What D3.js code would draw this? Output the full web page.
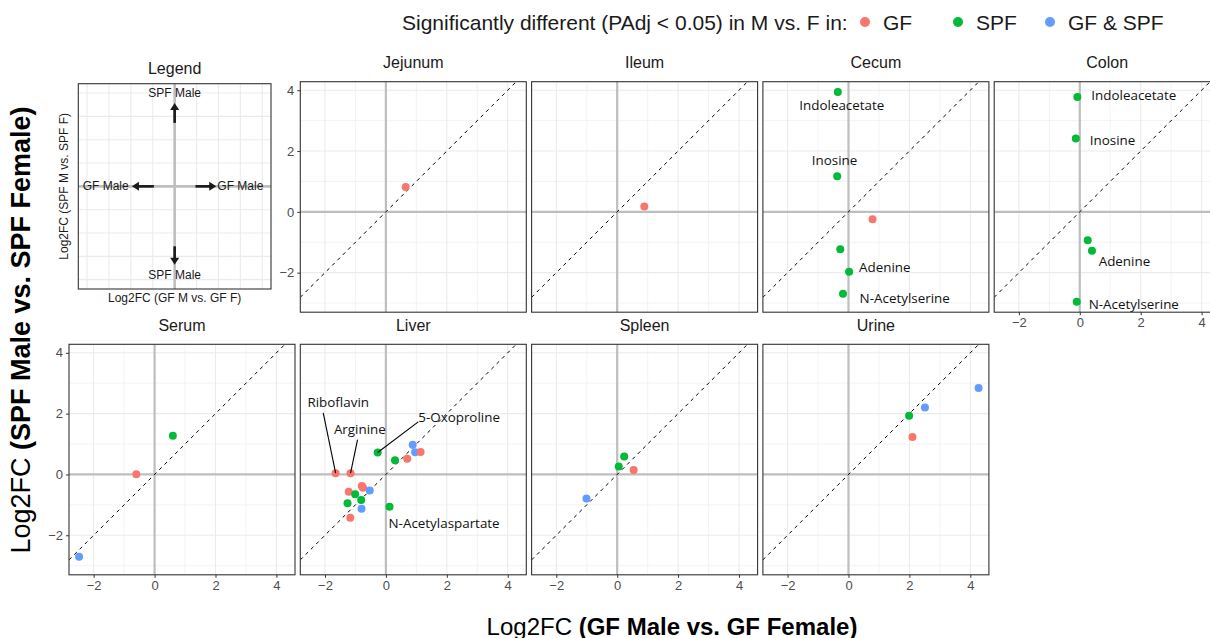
<!DOCTYPE html>
<html><head><meta charset="utf-8">
<script src="https://cdn.jsdelivr.net/npm/d3@7"></script>
<style>
body{margin:0;background:#fff}
svg{display:block;font-family:"Liberation Sans",Arial,sans-serif}
</style>
</head><body>
<svg id="chart" width="1210" height="638"></svg>
<script>
// ---- data: [log2FC GF M vs GF F, log2FC SPF M vs SPF F, significance group, label]
const groups = ["GF", "SPF", "GF & SPF"];
const groupColors = ["#F8766D", "#00BA38", "#619CFF"];
const xTicks = [-2, 0, 2, 4];
const yTicks = [-2, 0, 2, 4];

const jejunum = [[0.65, 0.82, "GF"]];
const ileum = [[0.89, 0.18, "GF"]];
const cecum = [
  [-0.35, 3.94, "SPF", "Indoleacetate"],
  [-0.37, 1.17, "SPF", "Inosine"],
  [0.79, -0.24, "GF"],
  [-0.27, -1.23, "SPF"],
  [0.02, -1.97, "SPF", "Adenine"],
  [-0.18, -2.69, "SPF", "N-Acetylserine"]
];
const colon = [
  [-0.08, 3.78, "SPF", "Indoleacetate"],
  [-0.13, 2.41, "SPF", "Inosine"],
  [0.26, -0.93, "SPF"],
  [0.40, -1.28, "SPF", "Adenine"],
  [-0.10, -2.96, "SPF", "N-Acetylserine"]
];
const serum = [
  [0.60, 1.27, "SPF"],
  [-0.60, 0.01, "GF"],
  [-2.48, -2.71, "GF & SPF"]
];
const liver = [
  [-1.65, 0.04, "GF", "Riboflavin"],
  [-1.16, 0.04, "GF", "Arginine"],
  [-0.27, 0.72, "SPF", "5-Oxoproline"],
  [0.30, 0.47, "SPF"],
  [0.70, 0.52, "GF"],
  [0.88, 0.98, "GF & SPF"],
  [0.96, 0.73, "GF & SPF"],
  [1.14, 0.74, "GF"],
  [-0.79, -0.38, "GF"],
  [-0.75, -0.44, "GF"],
  [-0.53, -0.53, "GF & SPF"],
  [-1.22, -0.57, "GF"],
  [-1.01, -0.65, "SPF"],
  [-0.81, -0.84, "SPF"],
  [-1.26, -0.95, "SPF"],
  [-0.80, -1.13, "GF & SPF"],
  [-1.17, -1.42, "GF"],
  [0.12, -1.06, "SPF", "N-Acetylaspartate"]
];
const spleen = [
  [0.23, 0.59, "SPF"],
  [0.05, 0.26, "SPF"],
  [0.54, 0.15, "GF"],
  [-1.01, -0.79, "GF & SPF"]
];
const urine = [
  [2.51, 2.20, "GF & SPF"],
  [2.10, 1.23, "GF"],
  [4.27, 2.84, "GF & SPF"],
  [1.99, 1.93, "SPF"]
];

const panelNames = ["Jejunum", "Ileum", "Cecum", "Colon", "Serum", "Liver", "Spleen", "Urine"];
const panelData = [jejunum, ileum, cecum, colon, serum, liver, spleen, urine];

// schematic key panel (its own -4.4..4.4 frame): shaft start -> arrow tip
const keyArrows = [[0, 2.72, 0, 3.57], [0, -2.57, 0, -3.36], [-0.95, 0, -1.95, 0], [0.95, 0, 1.9, 0]];
const keyLabels = [[0, 4.0, "SPF Male", "middle"], [0, -3.81, "SPF Male", "middle"],
                   [-2.1, 0, "GF Male", "end"], [1.95, 0, "GF Male", "start"]];

// ---- layout
const svg = d3.select("#chart");
const W = 226, H = 230.5;
const colLeft = c => 69 + c * 231.3;
const rowTop = [81.7, 344.3];
const panelCell = {
  Jejunum: [1, 0], Ileum: [2, 0], Cecum: [3, 0], Colon: [4, 0],
  Serum: [0, 1], Liver: [1, 1], Spleen: [2, 1], Urine: [3, 1]
};
const showY = { Jejunum: true, Serum: true };
const showX = { Colon: true, Serum: true, Liver: true, Spleen: true, Urine: true };

// label placement relative to its point (px); lead = start of a leader segment
const labelPlace = {
  "Cecum|Indoleacetate": { dx: 4, dy: 13, a: "middle" },
  "Cecum|Inosine": { dx: -2.7, dy: -16, a: "middle" },
  "Cecum|Adenine": { dx: 10, dy: -5, a: "start" },
  "Cecum|N-Acetylserine": { dx: 16.6, dy: 4, a: "start" },
  "Colon|Indoleacetate": { dx: 14, dy: -1.7, a: "start" },
  "Colon|Inosine": { dx: 14, dy: 1, a: "start" },
  "Colon|Adenine": { dx: 6.7, dy: 10, a: "start" },
  "Colon|N-Acetylserine": { dx: 12, dy: 2.3, a: "start" },
  "Liver|Riboflavin": { dx: 2.6, dy: -71.4, a: "middle", lead: [-12.4, -60.4] },
  "Liver|Arginine": { dx: 9.3, dy: -44.4, a: "middle", lead: [7, -33.7] },
  "Liver|5-Oxoproline": { dx: 40.6, dy: -35.3, a: "start", lead: [40.6, -30.7] },
  "Liver|N-Acetylaspartate": { dx: -1, dy: 16.7, a: "start" }
};

const x = d3.scaleLinear().domain([-2.81, 4.61]).range([0, W]);
const y = d3.scaleLinear().domain([-3.30, 4.28]).range([H, 0]);
const color = d3.scaleOrdinal().domain(groups).range(groupColors);

const defs = svg.append("defs");
defs.append("clipPath").attr("id", "pclip").append("rect").attr("width", W).attr("height", H);

panelNames.forEach((name, i) => {
  const [c, r] = panelCell[name];
  const g = svg.append("g").attr("transform", `translate(${colLeft(c)},${rowTop[r]})`);
  const inner = g.append("g").attr("clip-path", "url(#pclip)");

  // grid
  const minorX = [-3, -1, 1, 3], minorY = [-3, -1, 1, 3];
  inner.selectAll(".mx").data(minorX).join("line")
    .attr("x1", d => x(d)).attr("x2", d => x(d)).attr("y1", 0).attr("y2", H)
    .attr("stroke", "#f0f0f0").attr("stroke-width", 0.8);
  inner.selectAll(".my").data(minorY).join("line")
    .attr("y1", d => y(d)).attr("y2", d => y(d)).attr("x1", 0).attr("x2", W)
    .attr("stroke", "#f0f0f0").attr("stroke-width", 0.8);
  inner.selectAll(".gx").data(xTicks).join("line")
    .attr("x1", d => x(d)).attr("x2", d => x(d)).attr("y1", 0).attr("y2", H)
    .attr("stroke", "#ebebeb").attr("stroke-width", 1.1);
  inner.selectAll(".gy").data(yTicks).join("line")
    .attr("y1", d => y(d)).attr("y2", d => y(d)).attr("x1", 0).attr("x2", W)
    .attr("stroke", "#ebebeb").attr("stroke-width", 1.1);

  // zero reference lines
  inner.append("line").attr("x1", x(0)).attr("x2", x(0)).attr("y1", 0).attr("y2", H)
    .attr("stroke", "#bebebe").attr("stroke-width", 2.2);
  inner.append("line").attr("y1", y(0)).attr("y2", y(0)).attr("x1", 0).attr("x2", W)
    .attr("stroke", "#bebebe").attr("stroke-width", 2.2);

  // identity line
  const lo = Math.max(x.domain()[0], y.domain()[0]), hi = Math.min(x.domain()[1], y.domain()[1]);
  inner.append("line").attr("x1", x(lo)).attr("y1", y(lo)).attr("x2", x(hi)).attr("y2", y(hi))
    .attr("stroke", "#000").attr("stroke-width", 1).attr("stroke-dasharray", "3.5,4");

  // points
  inner.selectAll("circle").data(panelData[i]).join("circle")
    .attr("cx", d => x(d[0])).attr("cy", d => y(d[1])).attr("r", 4)
    .attr("fill", d => color(d[2]));

  // labels
  panelData[i].filter(d => d[3]).forEach(d => {
    const p = labelPlace[name + "|" + d[3]];
    const px = x(d[0]), py = y(d[1]);
    if (p.lead) {
      g.append("line").attr("x1", px + p.lead[0]).attr("y1", py + p.lead[1])
        .attr("x2", px).attr("y2", py).attr("stroke", "#000").attr("stroke-width", 1.1);
    }
    g.append("text").attr("x", px + p.dx).attr("y", py + p.dy)
      .attr("text-anchor", p.a).attr("dominant-baseline", "central")
      .attr("font-family", "'Open Sans', sans-serif").attr("font-size", 13.4).attr("fill", "#111")
      .text(d[3]);
  });

  // frame
  g.append("rect").attr("width", W).attr("height", H).attr("fill", "none")
    .attr("stroke", "#333").attr("stroke-width", 1.1);

  // strip title
  g.append("text").attr("x", W / 2).attr("y", -19).attr("text-anchor", "middle")
    .attr("dominant-baseline", "central").attr("font-size", 16).attr("fill", "#1a1a1a").text(name);

  if (showY[name]) {
    const ax = g.append("g").call(d3.axisLeft(y).tickValues(yTicks).tickSize(3).tickPadding(3));
    ax.select(".domain").remove();
    ax.selectAll("line").attr("stroke", "#333");
    ax.selectAll("text").attr("font-size", 13).attr("fill", "#4d4d4d").attr("font-family", "'Liberation Sans',Arial,sans-serif");
  }
  if (showX[name]) {
    const ax = g.append("g").attr("transform", `translate(0,${H})`)
      .call(d3.axisBottom(x).tickValues(xTicks).tickSize(3).tickPadding(3));
    ax.select(".domain").remove();
    ax.selectAll("line").attr("stroke", "#333");
    ax.selectAll("text").attr("font-size", 13).attr("fill", "#4d4d4d").attr("font-family", "'Liberation Sans',Arial,sans-serif");
  }
});

// ---- key panel
const kx = d3.scaleLinear().domain([-4.4, 4.4]).range([78.3, 271]);
const ky = d3.scaleLinear().domain([-4.4, 4.4]).range([289, 83.7]);
const kg = svg.append("g");
const kGrid = d3.range(-4, 5);
kg.selectAll(".kx").data(kGrid).join("line")
  .attr("x1", d => kx(d)).attr("x2", d => kx(d)).attr("y1", ky(4.4)).attr("y2", ky(-4.4))
  .attr("stroke", "#ebebeb").attr("stroke-width", 1.1);
kg.selectAll(".ky").data(kGrid).join("line")
  .attr("y1", d => ky(d)).attr("y2", d => ky(d)).attr("x1", kx(-4.4)).attr("x2", kx(4.4))
  .attr("stroke", "#ebebeb").attr("stroke-width", 1.1);
kg.append("line").attr("x1", kx(0)).attr("x2", kx(0)).attr("y1", ky(4.4)).attr("y2", ky(-4.4))
  .attr("stroke", "#bebebe").attr("stroke-width", 2.6);
kg.append("line").attr("y1", ky(0)).attr("y2", ky(0)).attr("x1", kx(-4.4)).attr("x2", kx(4.4))
  .attr("stroke", "#bebebe").attr("stroke-width", 2.6);

// arrows: shaft up to the head base, then a filled triangular head ending at the tip
const headLen = 7, headHalf = 4.5;
keyArrows.forEach(a => {
  const x0 = kx(a[0]), y0 = ky(a[1]), x1 = kx(a[2]), y1 = ky(a[3]);
  const len = Math.hypot(x1 - x0, y1 - y0), ux = (x1 - x0) / len, uy = (y1 - y0) / len;
  const bx = x1 - ux * headLen, by = y1 - uy * headLen;
  kg.append("line").attr("x1", x0).attr("y1", y0).attr("x2", bx + ux).attr("y2", by + uy)
    .attr("stroke", "#1a1a1a").attr("stroke-width", 2.6);
  kg.append("path")
    .attr("d", `M${x1},${y1}L${bx - uy * headHalf},${by + ux * headHalf}L${bx + uy * headHalf},${by - ux * headHalf}Z`)
    .attr("fill", "#1a1a1a");
});
kg.selectAll(".klab").data(keyLabels).join("text")
  .attr("x", d => kx(d[0])).attr("y", d => ky(d[1]))
  .attr("text-anchor", d => d[3]).attr("dominant-baseline", "central")
  .attr("font-size", 12).attr("fill", "#1a1a1a").text(d => d[2]);
kg.append("rect").attr("x", kx(-4.4)).attr("y", ky(4.4))
  .attr("width", kx(4.4) - kx(-4.4)).attr("height", ky(-4.4) - ky(4.4))
  .attr("fill", "none").attr("stroke", "#333").attr("stroke-width", 1.1);
kg.append("text").attr("x", (kx(-4.4) + kx(4.4)) / 2).attr("y", 68).attr("text-anchor", "middle")
  .attr("dominant-baseline", "central").attr("font-size", 16).attr("fill", "#1a1a1a").text("Legend");
kg.append("text").attr("x", (kx(-4.4) + kx(4.4)) / 2).attr("y", 298).attr("text-anchor", "middle")
  .attr("dominant-baseline", "central").attr("font-size", 12).attr("fill", "#1a1a1a")
  .text("Log2FC (GF M vs. GF F)");
kg.append("text").attr("transform", `translate(64,${(ky(4.4) + ky(-4.4)) / 2}) rotate(-90)`)
  .attr("text-anchor", "middle").attr("dominant-baseline", "central")
  .attr("font-size", 12).attr("fill", "#1a1a1a").text("Log2FC (SPF M vs. SPF F)");

// ---- colour legend
const lg = svg.append("g");
lg.append("text").attr("x", 402).attr("y", 22).attr("dominant-baseline", "central")
  .attr("font-size", 21).attr("fill", "#1a1a1a")
  .text("Significantly different (PAdj < 0.05) in M vs. F in:");
const legendX = [865, 958, 1050];
groups.forEach((gname, i) => {
  lg.append("circle").attr("cx", legendX[i]).attr("cy", 22).attr("r", 5).attr("fill", color(gname));
  lg.append("text").attr("x", legendX[i] + 18).attr("y", 22).attr("dominant-baseline", "central")
    .attr("font-size", 21).attr("fill", "#1a1a1a").text(gname);
});

// ---- global axis titles
const xt = svg.append("text").attr("x", 672).attr("y", 626).attr("text-anchor", "middle")
  .attr("dominant-baseline", "central").attr("font-size", 24).attr("fill", "#000");
xt.append("tspan").text("Log2FC ");
xt.append("tspan").attr("font-weight", "bold").text("(GF Male vs. GF Female)");
const yt = svg.append("text").attr("transform", "translate(21,330) rotate(-90)")
  .attr("text-anchor", "middle").attr("dominant-baseline", "central")
  .attr("font-size", 27).attr("fill", "#000");
yt.append("tspan").text("Log2FC ");
yt.append("tspan").attr("font-weight", "bold").text("(SPF Male vs. SPF Female)");
</script>
</body></html>
